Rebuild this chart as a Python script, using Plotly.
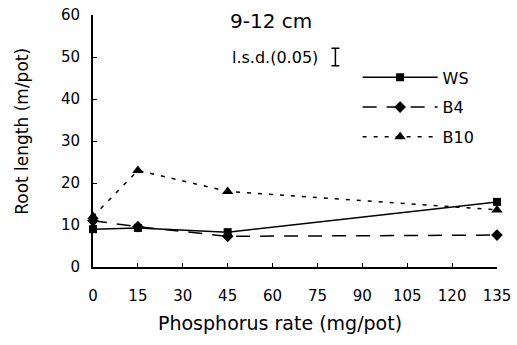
import plotly.graph_objects as go

phosphorus = [0, 15, 45, 135]
ws = [9.0, 9.3, 8.3, 15.5]
b4 = [11.0, 9.6, 7.3, 7.6]
b10 = [12.0, 23.0, 18.0, 13.6]
x_ticks = [0, 15, 30, 45, 60, 75, 90, 105, 120, 135]
y_ticks = [0, 10, 20, 30, 40, 50, 60]
lsd_x = [81]
lsd_y = [50.0]
lsd_half = [2.1]

fam = "DejaVu Sans, sans-serif"

fig = go.Figure()
fig.add_trace(go.Scatter(x=phosphorus, y=ws, name="WS", mode="lines+markers", legendgroup="a",
                         line=dict(color="black", width=1.5, dash="solid"),
                         marker=dict(symbol="square", size=8, color="black")))
fig.add_trace(go.Scatter(x=phosphorus, y=b4, name="B4", mode="lines+markers", legendgroup="b",
                         line=dict(color="black", width=1.5, dash="14px,10px"),
                         marker=dict(symbol="diamond", size=9, color="black")))
fig.add_trace(go.Scatter(x=phosphorus, y=b10, name="B10", mode="lines+markers", legendgroup="c",
                         line=dict(color="black", width=1.5, dash="4px,7px"),
                         marker=dict(symbol="triangle-up", size=10, color="black")))
fig.add_trace(go.Scatter(x=lsd_x, y=lsd_y, mode="markers", showlegend=False,
                         marker=dict(size=1, color="black"),
                         error_y=dict(type="data", array=lsd_half, color="black",
                                      thickness=1.5, width=4)))

fig.add_annotation(text="9-12 cm", x=0.44, y=1.03, xref="paper", yref="paper",
                   showarrow=False, xanchor="center", yanchor="top",
                   font=dict(family=fam, size=20, color="black"))
fig.add_annotation(text="l.s.d.(0.05)", x=lsd_x[0] - 5, y=lsd_y[0], xref="x", yref="y",
                   showarrow=False, xanchor="right", yanchor="middle",
                   font=dict(family=fam, size=16, color="black"))
fig.add_annotation(text="Phosphorus rate (mg/pot)", x=0.463, y=-0.222, xref="paper", yref="paper",
                   showarrow=False, xanchor="center", yanchor="middle",
                   font=dict(family=fam, size=19, color="black"))
fig.add_annotation(text="Root length (m/pot)", x=-0.176, y=0.54, xref="paper", yref="paper",
                   showarrow=False, xanchor="center", yanchor="middle", textangle=-90,
                   font=dict(family=fam, size=17, color="black"))

fig.update_layout(
    width=517, height=345,
    margin=dict(l=93, r=20, t=15, b=78, autoexpand=False),
    paper_bgcolor="white", plot_bgcolor="white",
    font=dict(family=fam, size=15, color="black"),
    showlegend=True,
    legend=dict(x=0.655, y=0.82, xanchor="left", yanchor="top",
                bgcolor="rgba(0,0,0,0)", itemwidth=75,
                font=dict(family=fam, size=16, color="black"),
                tracegroupgap=6),
    xaxis=dict(range=[0, 135], tickvals=x_ticks, ticktext=[str(v) for v in x_ticks],
               showgrid=False, zeroline=False, showline=True, linecolor="black",
               linewidth=2, ticks="inside", ticklen=4, tickcolor="black",
               automargin=False, ticklabelstandoff=14, ticklabeloverflow="allow",
               tickfont=dict(family=fam, size=15, color="black")),
    yaxis=dict(range=[0, 60], tickvals=y_ticks, showgrid=False, zeroline=False,
               showline=True, linecolor="black", linewidth=2, ticks="inside",
               ticklen=4, tickcolor="black", automargin=False, ticklabelstandoff=8,
               ticklabeloverflow="allow",
               tickfont=dict(family=fam, size=15, color="black")),
)
for tr in fig.data:
    tr.cliponaxis = False

fig.write_html("out.html", config={"displayModeBar": False},
               post_script="document.body.style.margin='0';")
